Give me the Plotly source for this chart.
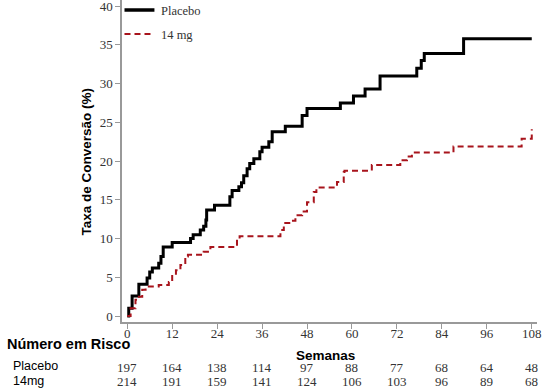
import plotly.graph_objects as go

# Step change points (weeks, %)
placebo_weeks = [0, 0.4, 1.3, 3.1, 5.3, 6.0, 6.7, 8.4, 9.0, 9.6, 12.0, 16.9, 17.6, 19.5, 20.4, 21.0,
                 21.2, 23.3, 27.4, 28.0, 29.8, 30.5, 31.1, 32.0, 32.7, 33.8, 35.4, 36.0, 37.8, 38.7,
                 42.2, 46.7, 48.0, 56.9, 60.4, 63.5, 67.5, 77.3, 78.5, 79.3, 89.8, 108]
placebo_vals = [0, 1.0, 2.6, 4.1, 4.9, 5.7, 6.2, 6.8, 7.7, 8.9, 9.5, 10.0, 10.5, 11.1, 11.6, 12.4,
                13.7, 14.3, 15.4, 16.2, 16.7, 17.2, 18.1, 19.0, 19.7, 20.3, 21.2, 21.8, 22.5, 23.8,
                24.5, 25.9, 26.8, 27.5, 28.4, 29.3, 31.0, 32.0, 33.0, 33.9, 35.8, 35.8]

mg14_weeks = [0, 0.9, 2.2, 3.1, 4.0, 4.9, 8.4, 11.1, 12.0, 13.0, 14.2, 15.5, 16.2, 20.4, 22.2,
              29.3, 30.0, 40.9, 41.8, 43.6, 44.9, 46.7, 48.0, 49.8, 50.5, 56.0, 57.8, 58.0, 65.3,
              72.9, 74.7, 76.0, 87.1, 105.3, 108]
mg14_vals = [0, 1.0, 2.1, 2.5, 3.4, 3.8, 4.0, 4.4, 5.3, 5.9, 6.6, 7.7, 7.9, 8.3, 8.9,
             10.0, 10.3, 11.1, 12.0, 12.3, 13.0, 13.5, 14.7, 16.0, 16.6, 17.3, 18.6, 18.75, 19.5,
             20.1, 20.6, 21.1, 21.9, 22.9, 24.1]

risk_weeks = [0, 12, 24, 36, 48, 60, 72, 84, 96, 108]
risk_placebo = [197, 164, 138, 114, 97, 88, 77, 68, 64, 48]
risk_14mg = [214, 191, 159, 141, 124, 106, 103, 96, 89, 68]

y_ticks = [0, 5, 10, 15, 20, 25, 30, 35, 40]

series_names = ["Placebo", "14 mg"]
series_colors = ["black", "#a8141c"]

SERIF = "Liberation Serif, Times New Roman, serif"
SANS = "Liberation Sans, Arial, sans-serif"

fig = go.Figure()
fig.add_trace(go.Scatter(x=placebo_weeks, y=placebo_vals, mode="lines", line_shape="hv",
                         name=series_names[0], showlegend=False,
                         line=dict(color=series_colors[0], width=3)))
fig.add_trace(go.Scatter(x=mg14_weeks, y=mg14_vals, mode="lines", line_shape="hv",
                         name=series_names[1], showlegend=False,
                         line=dict(color=series_colors[1], width=2, dash="6px,4px")))

W, H = 543, 390
ml, mr, mt, mb = 121.5, 5.7, 0, 68
ph = H - mt - mb
pw = W - ml - mr

def py(pix):
    return (H - mb - pix) / ph

def px(pix):
    return (pix - ml) / pw

annotations = []
annotations.append(dict(text="<b>Número em Risco</b>", xref="paper", yref="paper",
                        x=px(4), y=py(344), xanchor="left", yanchor="middle",
                        showarrow=False, font=dict(family=SANS, size=14.5, color="black")))
annotations.append(dict(text="<b>Semanas</b>", xref="paper", yref="paper",
                        x=px(325), y=py(355), xanchor="center", yanchor="middle",
                        showarrow=False, font=dict(family=SANS, size=13.5, color="black")))
annotations.append(dict(text="Placebo", xref="paper", yref="paper",
                        x=px(10), y=py(366), xanchor="left", yanchor="middle",
                        showarrow=False, font=dict(family=SANS, size=12.5, color="black")))
annotations.append(dict(text="14mg", xref="paper", yref="paper",
                        x=px(10), y=py(381), xanchor="left", yanchor="middle",
                        showarrow=False, font=dict(family=SANS, size=12.5, color="black")))
for wk, a, b in zip(risk_weeks, risk_placebo, risk_14mg):
    annotations.append(dict(text=str(a), x=wk, xref="x", yref="paper", y=py(367),
                            xanchor="center", yanchor="middle", showarrow=False,
                            font=dict(family=SERIF, size=13, color="#333")))
    annotations.append(dict(text=str(b), x=wk, xref="x", yref="paper", y=py(382),
                            xanchor="center", yanchor="middle", showarrow=False,
                            font=dict(family=SERIF, size=13, color="#333")))
annotations.append(dict(text="<b>Taxa de Conversão (%)</b>", xref="paper", yref="paper",
                        x=px(86), y=py(162), xanchor="center", yanchor="middle",
                        textangle=-90, showarrow=False,
                        font=dict(family=SANS, size=13.5, color="black")))

# Manual legend (placed in the top-left corner as in the reference)
legend_rows = [10, 34]
shapes = []
for name, color, row, dash, width in zip(series_names, series_colors, legend_rows,
                                         ["solid", "6px,4px"], [3.5, 2]):
    shapes.append(dict(type="line", xref="paper", yref="paper",
                       x0=px(124), x1=px(154), y0=py(row), y1=py(row),
                       line=dict(color=color, width=width, dash=dash)))
    annotations.append(dict(text=name, xref="paper", yref="paper", x=px(159), y=py(row + 1),
                            xanchor="left", yanchor="middle", showarrow=False,
                            font=dict(family=SERIF, size=12.5, color="#333")))

fig.update_layout(
    width=W, height=H,
    margin=dict(l=ml, r=mr, t=mt, b=mb, pad=0),
    paper_bgcolor="white", plot_bgcolor="white",
    showlegend=False,
    annotations=annotations,
    shapes=shapes,
    xaxis=dict(range=[-1.4, 109.4], tickvals=risk_weeks, ticktext=[str(v) for v in risk_weeks],
               showgrid=False, zeroline=False, showline=True, linecolor="#999", linewidth=1.5,
               ticks="outside", ticklen=5, tickcolor="#999", ticklabelstandoff=-6,
               ticklabeloverflow="allow", automargin=False,
               tickfont=dict(family=SERIF, size=13, color="#333")),
    yaxis=dict(range=[-0.77, 40.8], tickvals=y_ticks,
               showgrid=False, zeroline=False, showline=True, linecolor="#999", linewidth=1.5,
               ticks="outside", ticklen=5, tickcolor="#999",
               ticklabeloverflow="allow", automargin=False,
               tickfont=dict(family=SERIF, size=13, color="#333")),
)

fig.write_html("out.html", config={"displayModeBar": False},
               post_script="document.body.style.margin='0';document.body.style.padding='0';")
